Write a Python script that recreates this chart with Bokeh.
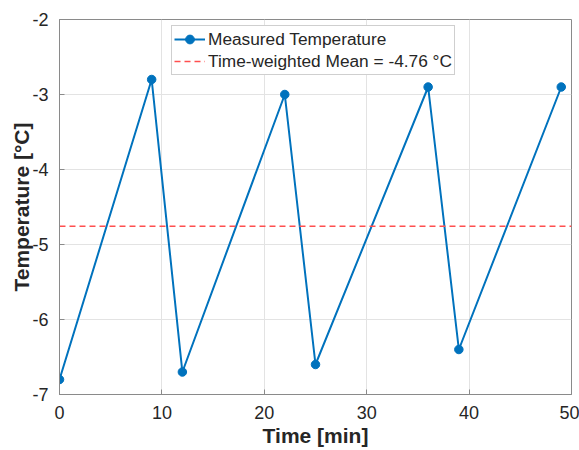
import numpy as np
from bokeh.plotting import figure
from bokeh.models import FixedTicker, Range1d, Legend, LegendItem, CustomJSTickFormatter
from bokeh.embed import file_html
from bokeh.resources import INLINE

# ---- data ----
time_min = [0, 9, 12, 22, 25, 36, 39, 49]
temperature_c = [-6.8, -2.8, -6.7, -3.0, -6.6, -2.9, -6.4, -2.9]
x_limits = [0, 50]
y_limits = [-7, -2]
x_ticks = [0, 10, 20, 30, 40, 50]
y_ticks = [-7, -6, -5, -4, -3, -2]
mean_temp = float(np.trapezoid(temperature_c, time_min) / (time_min[-1] - time_min[0]))

BLUE = "#0072BD"
RED = "#FF4F4F"
AX = "#8a8a8a"
TXT = "#262626"
FONT = "Liberation Sans"

p = figure(width=579, height=450, output_backend="svg", toolbar_location=None,
           x_range=Range1d(*x_limits), y_range=Range1d(*y_limits),
           min_border_left=59, min_border_right=8, min_border_top=19, min_border_bottom=56)
p.background_fill_color = "white"
p.border_fill_color = "white"
p.outline_line_color = AX
p.outline_line_width = 1

hyphen_fmt = CustomJSTickFormatter(code="return String(tick);")
for ax in (p.xaxis[0], p.yaxis[0]):
    ax.formatter = hyphen_fmt
    ax.axis_line_color = AX
    ax.major_tick_line_color = AX
    ax.major_tick_in = 5
    ax.major_tick_out = 0
    ax.minor_tick_line_color = None
    ax.major_label_text_font = FONT
    ax.major_label_text_font_size = "18px"
    ax.major_label_text_color = TXT
    ax.axis_label_text_font = FONT
    ax.axis_label_text_font_size = "21px"
    ax.axis_label_text_font_style = "bold"
    ax.axis_label_text_color = TXT

p.xaxis.ticker = FixedTicker(ticks=x_ticks)
p.yaxis.ticker = FixedTicker(ticks=y_ticks)
p.xaxis.axis_label = "Time [min]"
p.yaxis.axis_label = "Temperature [°C]"
p.xaxis.major_label_standoff = 11
p.yaxis.major_label_standoff = 11
p.xaxis.axis_label_standoff = 2
p.yaxis.axis_label_standoff = -4

p.xgrid.ticker = FixedTicker(ticks=x_ticks)
p.ygrid.ticker = FixedTicker(ticks=y_ticks)
p.grid.grid_line_color = "#e3e3e3"
p.grid.grid_line_width = 1

r_line = p.line(time_min, temperature_c, line_color=BLUE, line_width=2)
r_pts = p.scatter(time_min, temperature_c, marker="circle", size=8.5,
                  fill_color=BLUE, line_color=BLUE)
r_mean = p.line(x_limits, [mean_temp, mean_temp], line_color=RED, line_width=1.5,
                line_dash="6 4")

legend = Legend(items=[
    LegendItem(label="Measured Temperature", renderers=[r_line, r_pts]),
    LegendItem(label=f"Time-weighted Mean = {mean_temp:.2f} °C", renderers=[r_mean]),
], location=(112, 319))
legend.label_text_font = FONT
legend.label_text_font_size = "17.3px"
legend.label_text_color = TXT
legend.border_line_color = "#a0a0a0"
legend.border_line_width = 1
legend.background_fill_color = "white"
legend.background_fill_alpha = 1
legend.padding = 2
legend.spacing = 0
legend.margin = 0
legend.glyph_width = 31
legend.glyph_height = 22
legend.label_height = 22
legend.label_standoff = 3
p.add_layout(legend, "center")

open("out.html", "w").write(file_html(p, INLINE))
